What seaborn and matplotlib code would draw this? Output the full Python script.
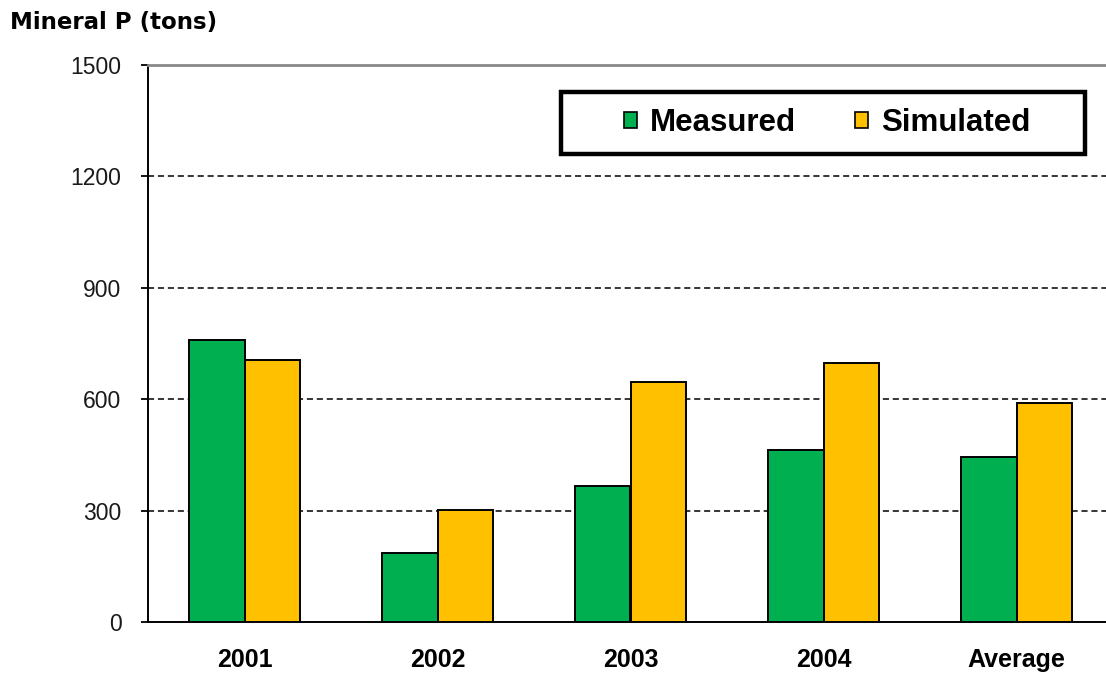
import pandas as pd
import numpy as np
import matplotlib
matplotlib.use("Agg")
import matplotlib.pyplot as plt
from matplotlib.patches import Patch, Rectangle
import seaborn as sns

# values
categories = ["2001", "2002", "2003", "2004", "Average"]
measured = [760, 186, 365, 463, 443]
simulated = [706, 301, 647, 697, 591]
series_names = ["Measured", "Simulated"]
colors = ["#00B050", "#FFC000"]
y_ticks = [0, 300, 600, 900, 1200, 1500]

df = pd.DataFrame({
    "year": categories * 2,
    "value": measured + simulated,
    "series": [series_names[0]] * len(categories) + [series_names[1]] * len(categories),
})

sns.set_style("white")
plt.rcParams['font.family'] = ['Liberation Sans', 'DejaVu Sans']
plt.rcParams['text.color'] = 'black'
plt.rcParams['xtick.color'] = 'black'
plt.rcParams['ytick.color'] = 'black'

W, H = 1106, 683
fig = plt.figure(figsize=(W / 100, H / 100), dpi=100)
ax = fig.add_axes([148 / W, 1 - 622 / H, (W - 148) / W, (622 - 65) / H])

sns.barplot(
    data=df, x="year", y="value", hue="series",
    palette=colors, width=0.57, edgecolor="black", linewidth=1.4,
    saturation=1, ax=ax, legend=False, zorder=3,
)

cat_w = 193
ax.set_xlim(-0.5, -0.5 + (W - 148) / cat_w)
ax.set_ylim(0, 1500)
ax.set_yticks(y_ticks)
ax.set_yticklabels([str(t) for t in y_ticks], fontsize=16.5, color="#1a1a1a")
ax.set_xlabel("")
ax.set_ylabel("")
ax.tick_params(axis="x", which="major", length=0, pad=19, labelsize=18)
for lbl in ax.get_xticklabels():
    lbl.set_fontweight("bold")
ax.set_xticks(np.arange(len(categories)) - 0.5, minor=True)
ax.tick_params(axis="x", which="minor", length=6, width=1.3, direction="out", color="black")
ax.tick_params(axis="y", length=5, width=1.3, direction="out", color="black", pad=14, left=True)

for t in y_ticks[1:-1]:
    ax.axhline(t, color="black", linestyle=(0, (4, 2.5)), linewidth=1.1, zorder=1)

ax.spines["right"].set_visible(False)
ax.spines["top"].set_color("#888888")
ax.spines["top"].set_linewidth(2)
for s in ["left", "bottom"]:
    ax.spines[s].set_color("black")
    ax.spines[s].set_linewidth(1.4)

fig.text(10 / W, 1 - 22 / H, "Mineral P (tons)", fontsize=16.5, fontweight="bold",
         va="center", ha="left", family=["DejaVu Sans"])

# legend frame drawn as a box, entries placed inside it
box_l, box_r, box_t, box_b = 561, 1085, 92, 154
fig.patches.append(Rectangle((box_l / W, 1 - box_b / H), (box_r - box_l) / W, (box_b - box_t) / H,
                             transform=fig.transFigure, facecolor="white", edgecolor="black",
                             linewidth=3.2, zorder=5))
handles = [Patch(facecolor=c, edgecolor="black", linewidth=1.2) for c in colors]
leg = fig.legend(
    handles, series_names, ncol=2, loc="center",
    bbox_to_anchor=((box_l + box_r) / 2 / W + 4 / W, 1 - (box_t + box_b) / 2 / H), frameon=False,
    prop={"weight": "bold", "size": 22.5},
    handlelength=0.42, handleheight=0.42, handletextpad=0.4, columnspacing=1.9,
    borderpad=0, borderaxespad=0,
)
leg.set_zorder(6)

fig.savefig("out.png", dpi=100)
